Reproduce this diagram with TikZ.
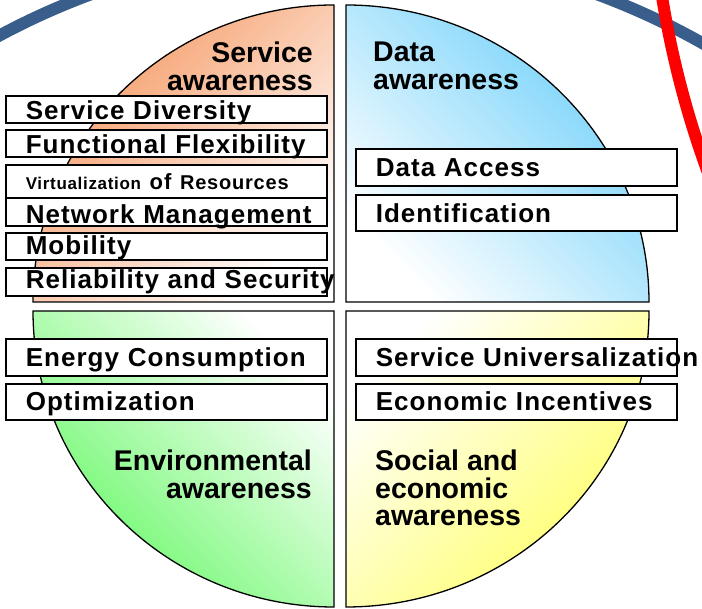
\documentclass[tikz,border=0pt]{standalone}
\usepackage{fontspec}
\setmainfont{Liberation Sans}
\newfontfamily\boxfont[LetterSpace=4]{Liberation Sans}

\definecolor{svcorange}{RGB}{245,150,95}
\definecolor{datablue}{RGB}{110,208,250}
\definecolor{envgreen}{RGB}{100,248,100}
\definecolor{socyellow}{RGB}{255,255,100}
\definecolor{ringblue}{RGB}{58,94,140}

\begin{document}
\begin{tikzpicture}[x = 1pt, y = 1pt]
			\useasboundingbox (0, 0) rectangle (702, 609);
			\clip (0, 0) rectangle (702, 609);

			% Define the corners of the four quarters
			\coordinate (TL) at (334, 307);
			\coordinate (TR) at (346, 307);
			\coordinate (BL) at (334, 298);
			\coordinate (BR) at (346, 298);

			% Styles for the quarters, the boxes and the titles
			\tikzset{quarter/.style = {draw = black, line width = 1.3pt}}
			\tikzset{itembox/.style 2 args = {draw = black, fill = white, line width = 1.6pt, anchor = north west, text width = 281pt, inner xsep = 20pt, inner ysep = 0pt, text height = #1pt, text depth = #2pt, align = left, font = \boxfont\bfseries\fontsize{26}{26}\selectfont}}
			\tikzset{title/.style = {inner sep = 0pt, font = \bfseries\fontsize{28.5}{27.5}\selectfont}}

			% Draw the rings in the background
			\draw[ringblue, line width = 12pt] (344, -69) ++(124:729) arc[start angle = 124, end angle = 56, radius = 729];
			\draw[red, line width = 12pt] (1600, 763) ++(186:950) arc[start angle = 186, end angle = 202, radius = 950];

			% Draw the four quarters
			\shadedraw[quarter, top color = svcorange, middle color = svcorange!65, bottom color = white, shading angle = 45]
				(TL) -- ++(-301, 0) arc[start angle = 180, end angle = 90, x radius = 301, y radius = 297] -- cycle;
			\shadedraw[quarter, top color = datablue, middle color = datablue!65, bottom color = white, shading angle = -45]
				(TR) -- ++(0, 297) arc[start angle = 90, end angle = 0, x radius = 303, y radius = 297] -- cycle;
			\shadedraw[quarter, top color = white, middle color = envgreen!65, bottom color = envgreen, shading angle = -45]
				(BL) -- ++(0, -296) arc[start angle = 270, end angle = 180, x radius = 301, y radius = 296] -- cycle;
			\shadedraw[quarter, top color = white, middle color = socyellow!70, bottom color = socyellow, shading angle = 45]
				(BR) -- ++(303, 0) arc[start angle = 0, end angle = -90, x radius = 303, y radius = 296] -- cycle;

			% Draw the titles
			\node[title, anchor = north east, align = right] (svctitle) at (313, 567) {Service\\awareness};
			\node[title, anchor = north west, align = left] (datatitle) at (373, 567) {Data\\awareness};
			\node[title, anchor = north east, align = right] (envtitle) at (312, 159) {Environmental\\awareness};
			\node[title, anchor = north west, align = left] (soctitle) at (375, 159) {Social and\\economic\\awareness};

			% Draw the boxes of the service quarter
			\node[itembox = {24}{3}] (diversity) at (5, 514) {Service Diversity};
			\node[itembox = {24}{3}] (flexibility) at (5, 480) {\mbox{Functional Flexibility}};
			\node[itembox = {25}{8}] (virtual) at (5, 445) {{\fontsize{17}{17}\selectfont Virtualization} {\fontsize{22}{22}\selectfont of} {\fontsize{20}{20}\selectfont Resources}};
			\node[itembox = {25.5}{2.5}] (management) at (5, 411.5) {\mbox{Network Management}};
			\node[itembox = {22}{5}] (mobility) at (5, 377) {Mobility};
			\node[itembox = {21}{7}] (security) at (5, 342) {\mbox{Reliability and Security}};

			% Draw the boxes of the data quarter
			\node[itembox = {28}{9}] (access) at (355, 461) {Data Access};
			\node[itembox = {28}{8}] (identification) at (355, 415) {Identification};

			% Draw the boxes of the two lower quarters
			\node[itembox = {28}{9}] (energy) at (5, 271) {\mbox{Energy Consumption}};
			\node[itembox = {27}{9}] (optimization) at (5, 226) {Optimization};
			\node[itembox = {28}{9}] (universal) at (355, 271) {\mbox{Service Universalization}};
			\node[itembox = {27}{9}] (incentives) at (355, 226) {\mbox{Economic Incentives}};

		\end{tikzpicture}
\end{document}
